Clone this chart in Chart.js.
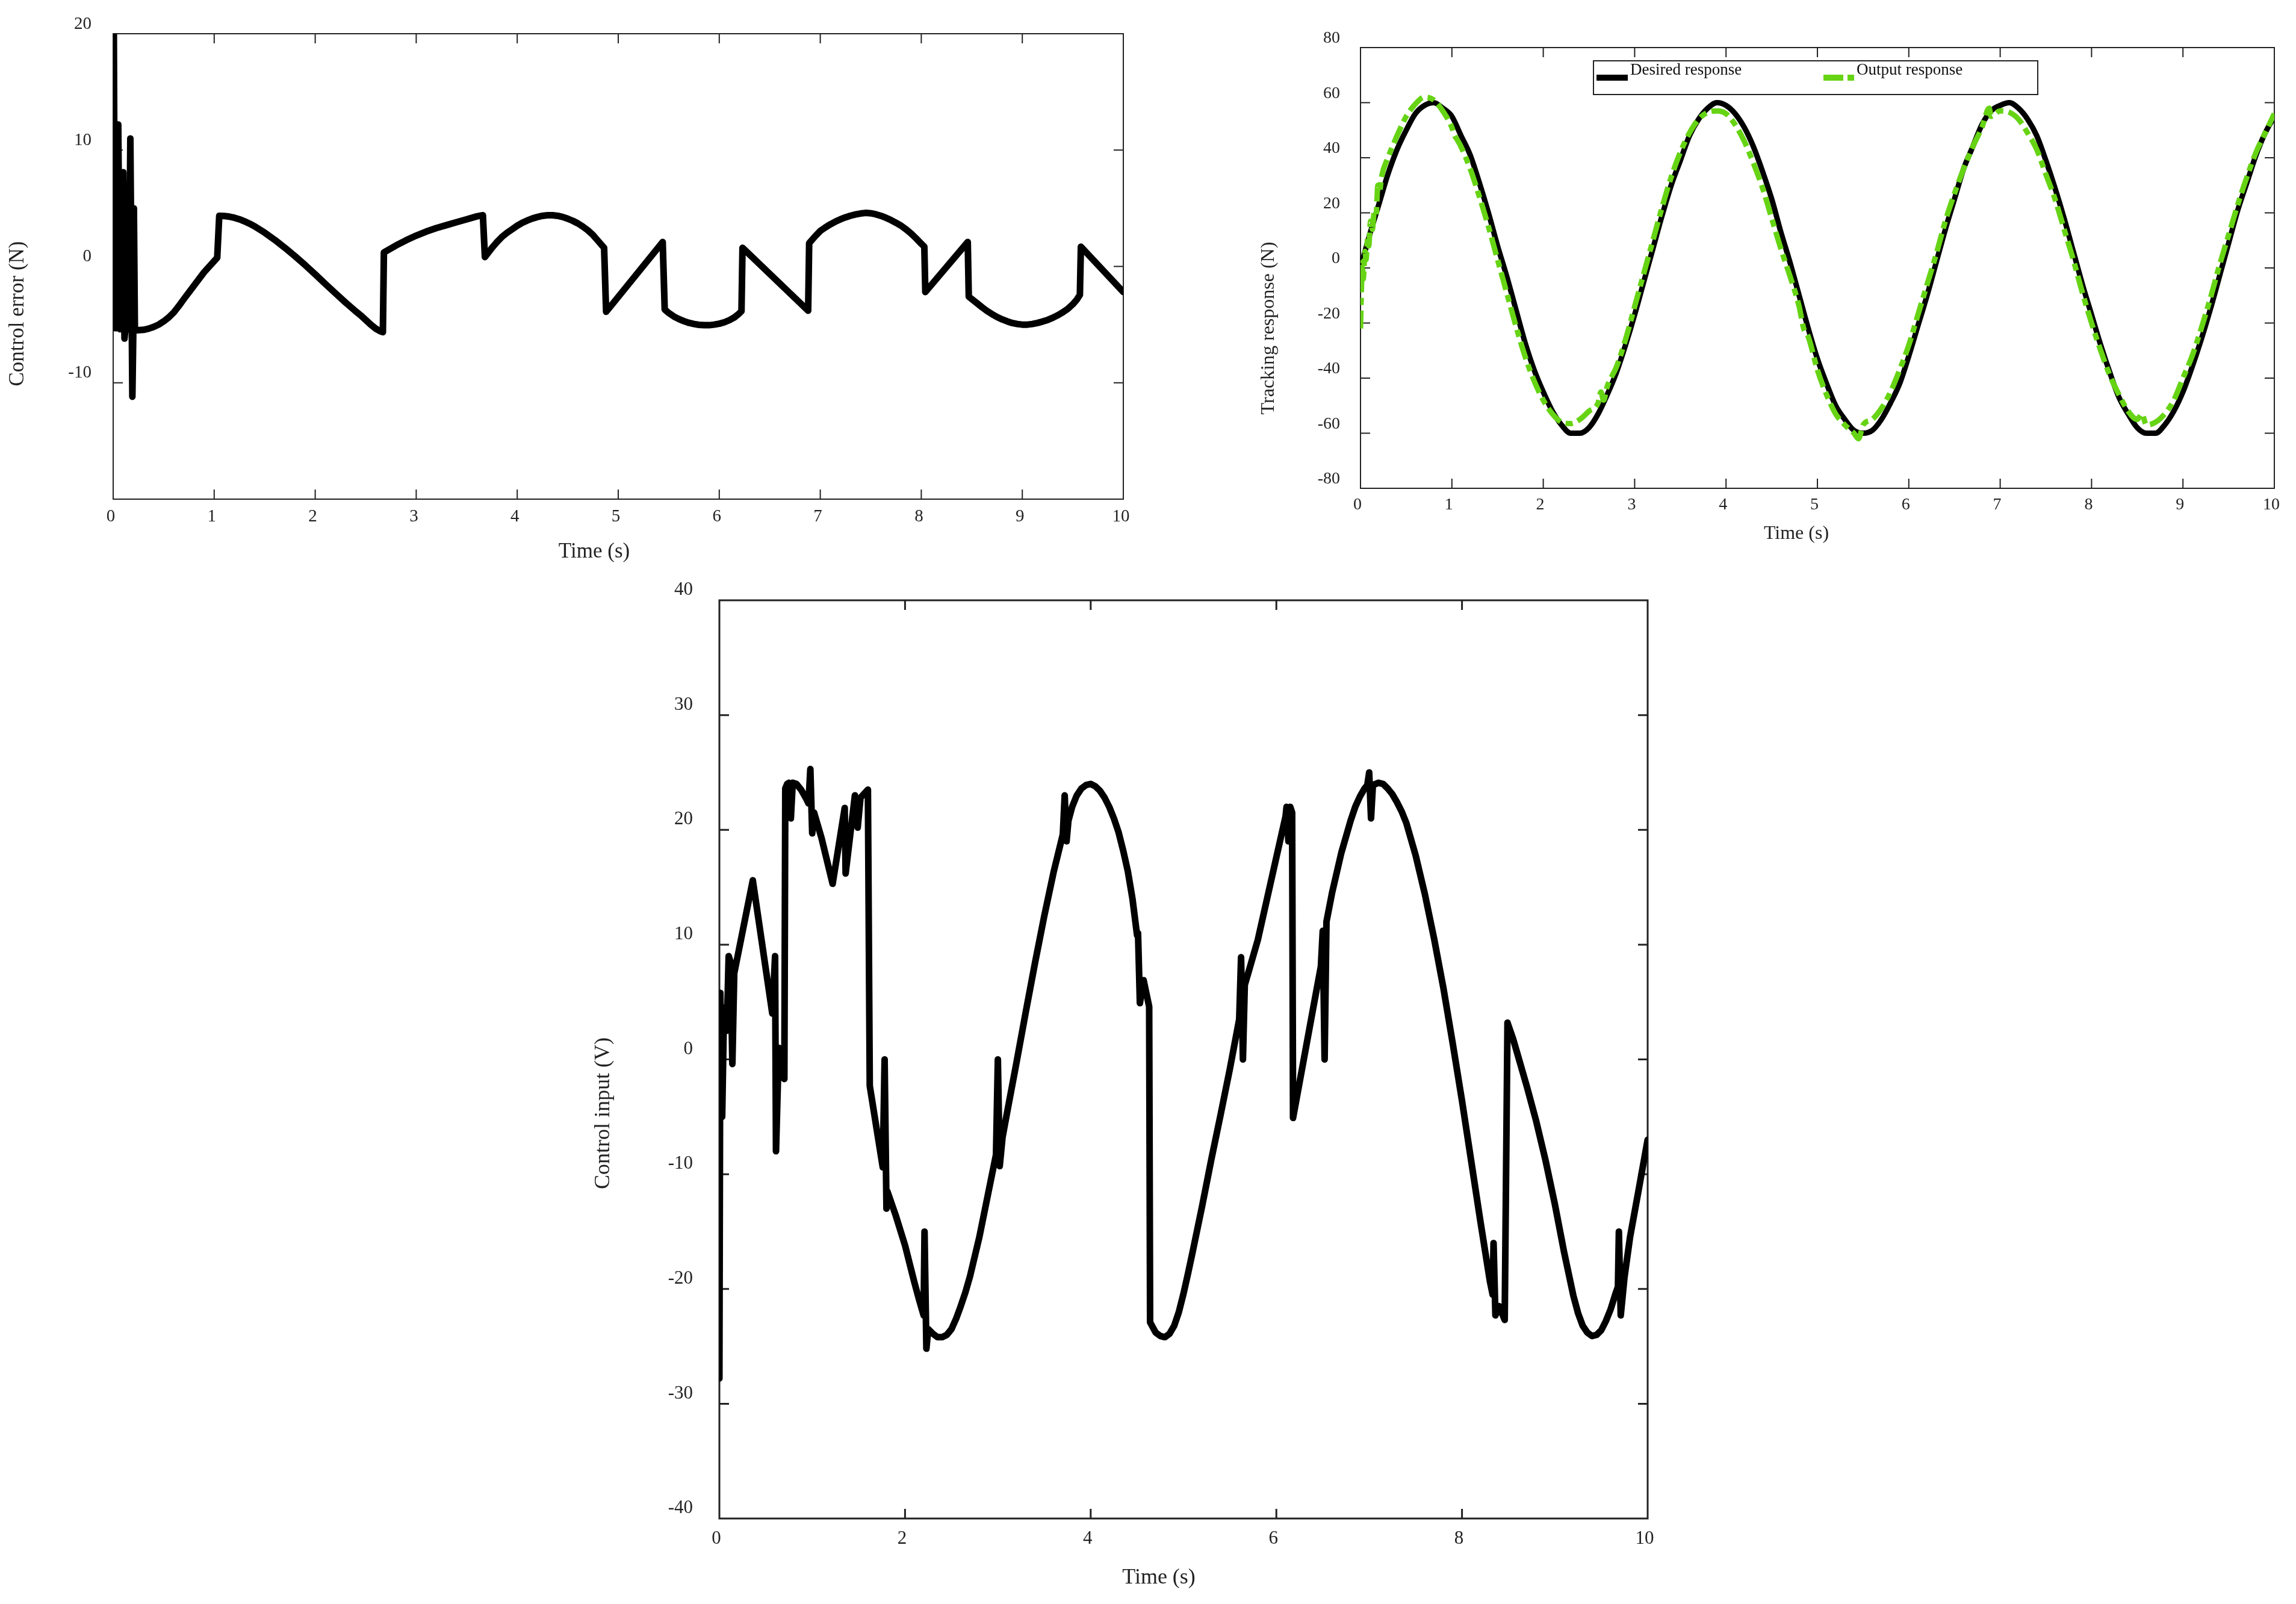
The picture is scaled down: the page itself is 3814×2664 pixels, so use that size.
<!DOCTYPE html>
<html>
<head>
<meta charset="utf-8">
<script src="https://cdn.jsdelivr.net/npm/chart.js@4.4.1/dist/chart.umd.min.js"></script>
<style>
html,body{margin:0;padding:0;background:#fff;width:3814px;height:2664px;overflow:hidden;}
canvas{position:absolute;display:block;}
</style>
</head>
<body>
<canvas id="c1" width="1900" height="960" style="left:0px;top:0px;width:1900px;height:960px"></canvas>
<canvas id="c2" width="1774" height="960" style="left:2040px;top:0px;width:1774px;height:960px"></canvas>
<canvas id="c3" width="1914" height="1734" style="left:900px;top:930px;width:1914px;height:1734px"></canvas>
<script>
// ---------------- DATA ----------------
// Chart 1: Control error (N) vs Time (s)
const errorTime = [0,0.006,0.018,0.035,0.05,0.068,0.085,0.1,0.112,0.125,0.14,0.155,0.17,0.19,0.2,0.205,0.215,
  0.3,0.35,0.4,0.45,0.5,0.55,0.6,0.65,0.7,0.8,0.9,1.03,
  1.05,1.1,1.15,1.2,1.25,1.3,1.35,1.4,1.5,1.6,1.7,1.8,1.9,2.0,2.1,2.2,2.3,2.4,2.45,2.5,2.55,2.6,2.64,2.67,
  2.68,2.8,2.9,3.0,3.1,3.2,3.3,3.4,3.5,3.6,3.66,
  3.68,3.75,3.8,3.85,3.9,3.95,4.0,4.05,4.1,4.15,4.2,4.25,4.3,4.35,4.4,4.45,4.5,4.55,4.6,4.65,4.7,4.75,4.8,4.86,
  4.88,5.44,
  5.46,5.5,5.55,5.6,5.65,5.7,5.75,5.8,5.85,5.9,5.95,6.0,6.05,6.1,6.15,6.19,6.22,
  6.23,6.88,
  6.89,6.95,7.0,7.05,7.1,7.15,7.2,7.25,7.3,7.35,7.4,7.45,7.5,7.55,7.6,7.65,7.7,7.75,7.8,7.85,7.9,7.95,8.0,8.03,
  8.04,8.46,
  8.47,8.55,8.6,8.65,8.7,8.75,8.8,8.85,8.9,8.95,9.0,9.05,9.1,9.15,9.2,9.25,9.3,9.35,9.4,9.45,9.5,9.54,9.57,
  9.58,10];
const errorValue = [0,21,-5.3,-5.3,12.2,-5.4,-5.2,8.1,-6.2,-5.0,5.5,-5.4,11.0,-11.2,-5.0,5.0,-5.5,
  -5.45,-5.35,-5.2,-5.0,-4.72,-4.38,-3.95,-3.4,-2.8,-1.65,-0.5,0.75,
  4.35,4.33,4.28,4.18,4.05,3.88,3.68,3.45,2.9,2.28,1.6,0.88,0.12,-0.68,-1.5,-2.3,-3.1,-3.85,-4.2,-4.6,-5.0,-5.35,-5.55,-5.65,
  1.2,1.8,2.25,2.65,3.0,3.3,3.55,3.8,4.05,4.3,4.4,
  0.8,1.6,2.1,2.55,2.9,3.2,3.5,3.75,3.95,4.12,4.25,4.35,4.4,4.4,4.35,4.25,4.1,3.92,3.7,3.42,3.1,2.7,2.2,1.6,
  -3.9,2.1,
  -3.7,-4.0,-4.3,-4.52,-4.7,-4.85,-4.95,-5.02,-5.05,-5.05,-5.0,-4.92,-4.8,-4.62,-4.38,-4.1,-3.85,
  1.6,-3.8,
  2.0,2.6,3.05,3.35,3.62,3.85,4.05,4.22,4.36,4.47,4.55,4.6,4.57,4.48,4.35,4.18,3.98,3.75,3.5,3.18,2.82,2.4,1.95,1.7,
  -2.2,2.1,
  -2.6,-3.15,-3.5,-3.82,-4.1,-4.35,-4.55,-4.72,-4.86,-4.95,-5.0,-5.0,-4.95,-4.86,-4.74,-4.6,-4.42,-4.2,-3.95,-3.65,-3.25,-2.85,-2.45,
  1.7,-2.2];
const errorTicksX = [0,10,1];
const errorTicksY = [-20,20,10];

// Chart 2: Tracking response (N)
const desiredTime = [0,0.1,0.2,0.3,0.4,0.5,0.6,0.7,0.8,0.9,1.0,1.1,1.2,1.3,1.4,1.5,1.6,1.7,1.8,1.9,2.0,
  2.1,2.2,2.3,2.4,2.5,2.6,2.7,2.8,2.9,3.0,3.1,3.2,3.3,3.4,3.5,3.6,3.7,3.8,3.9,4.0,4.1,4.2,4.3,4.4,4.5,4.6,
  4.7,4.8,4.9,5.0,5.1,5.2,5.3,5.4,5.5,5.6,5.7,5.8,5.9,6.0,6.1,6.2,6.3,6.4,6.5,6.6,6.7,6.8,6.9,7.0,7.1,7.2,
  7.3,7.4,7.5,7.6,7.7,7.8,7.9,8.0,8.1,8.2,8.3,8.4,8.5,8.6,8.7,8.8,8.9,9.0,9.1,9.2,9.3,9.4,9.5,9.6,9.7,9.8,9.9,10.0];
const desiredValue = [0,12,23,34,43,50,56,59,60,58,55,48,41,31,20,8,-3,-15,-27,-37,-45,
  -52,-57,-60,-60,-58,-53,-46,-38,-28,-17,-5,7,19,30,39,48,54,58,60,59,56,51,44,35,25,13,
  2,-10,-22,-33,-42,-50,-55,-59,-60,-59,-55,-49,-42,-32,-21,-10,2,14,25,36,44,52,57,59,60,58,
  54,48,39,29,18,6,-6,-17,-28,-38,-47,-53,-58,-60,-60,-57,-52,-45,-36,-26,-15,-3,9,21,31,41,49,55];
const outputTime = [0,0.01,0.02,0.03,0.05,0.06,0.08,0.09,0.11,0.13,0.15,0.17,0.19,0.21,0.23,0.3,0.4,0.5,0.6,0.7,
  0.8,0.9,1.0,1.03,1.05,1.1,1.2,1.3,1.4,1.5,1.6,1.7,1.8,1.9,2.0,2.1,2.2,2.3,2.4,2.5,2.6,2.63,2.66,2.7,2.8,2.9,
  3.0,3.1,3.2,3.3,3.4,3.5,3.6,3.7,3.8,3.9,4.0,4.1,4.2,4.3,4.4,4.5,4.6,4.7,4.8,4.85,4.9,5.0,5.1,5.2,5.3,5.4,
  5.45,5.5,5.6,5.7,5.8,5.9,6.0,6.1,6.2,6.3,6.4,6.5,6.6,6.7,6.8,6.88,6.9,7.0,7.1,7.2,7.3,7.4,7.5,7.6,7.7,7.8,
  7.9,8.0,8.1,8.2,8.3,8.4,8.5,8.55,8.6,8.7,8.8,8.9,9.0,9.1,9.2,9.3,9.4,9.5,9.6,9.7,9.8,9.9,10.0];
const outputValue = [-22,-8,2,-4,6,3,11,8,17,14,20,19,30,28,33,40,48,55,59.5,62,
  61,57,51,48,47,44,36,26,15,3,-9,-21,-32,-41,-48,-53,-56,-56.5,-55,-52,-49,-45,-48,-43,-36,-26,
  -14,-2,10,22,33,42,49,54,56.5,57,56,52,46,38,29,18,7,-3,-14,-22,-25,-37,-46,-53,-57,-60,
  -62,-57,-55,-51,-45,-37,-28,-17,-6,5,17,27,36,44,51,58,55,57,56.5,54,49,43,34,25,14,3,
  -9,-20,-30,-39,-46,-52,-55,-53,-57,-56,-53,-48,-40,-32,-22,-11,1,12,23,33,42,49,56];
const trackTicksX = [0,10,1];
const trackTicksY = [-80,80,20];

// Chart 3: Control input (V)
const inputTime = [0,0.01,0.03,0.05,0.08,0.1,0.12,0.14,0.16,0.36,0.57,0.6,0.61,0.64,0.67,0.7,
  0.71,0.73,0.75,0.77,0.79,0.83,0.88,0.93,0.96,0.98,1.0,1.02,1.1,1.22,1.35,1.36,1.46,1.49,1.52,1.6,
  1.62,1.76,1.78,1.8,1.81,1.9,2.0,2.1,2.15,2.2,2.21,2.23,2.25,2.3,2.35,2.4,2.45,2.5,2.55,2.6,2.65,2.7,
  2.8,2.9,2.98,3.0,3.02,3.05,3.1,3.2,3.3,3.4,3.5,3.6,3.7,3.72,3.74,3.76,3.8,3.85,3.9,3.95,4.0,4.05,4.1,
  4.15,4.2,4.25,4.3,4.35,4.4,4.45,4.5,4.51,4.53,4.57,4.63,
  4.64,4.7,4.75,4.8,4.85,4.9,4.95,5.0,5.05,5.1,5.2,5.3,5.4,5.5,5.6,5.62,5.64,5.66,5.7,5.8,5.9,6.0,6.1,
  6.11,6.13,6.15,6.17,6.18,6.3,6.4,6.48,6.5,6.52,6.54,6.6,6.7,6.8,6.85,6.9,6.95,6.98,7.0,7.02,7.04,7.1,
  7.15,7.2,7.25,7.3,7.35,7.4,7.5,7.6,7.7,7.8,7.9,8.0,8.1,8.2,8.3,8.33,8.34,8.36,8.4,8.46,
  8.49,8.55,8.6,8.7,8.8,8.9,9.0,9.1,9.2,9.25,9.3,9.35,9.4,9.45,9.5,9.55,9.6,9.65,9.68,9.69,9.71,9.75,
  9.81,9.9,10];
const inputValue = [-27.8,5.8,-5,4.5,2.5,9,8.5,-0.4,7.5,15.6,4,9,-8,1,-1.5,-1.7,
  23.6,24.0,24.1,21,24.1,24,23.5,22.8,22.3,25.3,19.7,21.5,19.3,15.3,21.9,16.2,23,20.2,22.8,23.5,
  -2.3,-9.4,0,-13,-11.5,-13.6,-16.2,-19.4,-20.9,-22.3,-15,-25.2,-23.5,-23.9,-24.2,-24.2,-24.0,-23.5,-22.6,-21.5,-20.3,-18.9,
  -15.5,-11.5,-8.3,0,-9.3,-6.8,-4.6,-0.3,4.1,8.4,12.5,16.3,19.6,23,19,20.8,22.0,23.0,23.6,23.9,24.0,23.8,23.4,
  22.8,22.0,21.0,19.8,18.2,16.4,14,10.8,11,4.9,6.9,4.6,
  -22.9,-23.8,-24.1,-24.2,-23.9,-23.2,-22,-20.4,-18.6,-16.7,-12.8,-8.7,-4.8,-0.8,3.5,8.9,0,6.5,7.6,10.4,14,17.6,21.2,
  22,19,22,21.5,-5.1,0.2,4.6,8.1,11.2,0,12,14.5,18,20.8,22,22.9,23.6,23.9,25,21,23.9,24.1,
  24,23.6,23.1,22.4,21.6,20.6,17.8,14.4,10.5,6.2,1.4,-3.6,-8.9,-14.2,-19.3,-20.5,-16,-22.3,-21.5,-22.7,
  3.2,1.8,0.4,-2.4,-5.4,-8.8,-12.6,-16.8,-20.6,-22.1,-23.2,-23.8,-24.1,-24.0,-23.6,-22.8,-21.8,-20.5,-19.8,-15,-22.3,-19,
  -15.5,-11.5,-7];
const inputTicksX = [0,10,2];
const inputTicksY = [-40,40,10];

// ---------------- HELPERS ----------------
const FONT = "'Liberation Serif', 'Times New Roman', Times, serif";
const INK = '#222';
function pts(xs, ys) { return xs.map((x, i) => ({ x: x, y: ys[i] })); }

function framePlugin(len, width) {
  return {
    id: 'frameTicks',
    beforeDatasetsDraw(chart) {
      const { ctx, chartArea: a } = chart;
      const sx = chart.scales.x, sy = chart.scales.y;
      ctx.save();
      ctx.strokeStyle = INK;
      ctx.lineWidth = width;
      ctx.strokeRect(a.left, a.top, a.right - a.left, a.bottom - a.top);
      ctx.beginPath();
      sx.ticks.forEach(t => {
        const p = sx.getPixelForValue(t.value);
        if (p <= a.left + 2 || p >= a.right - 2) return;
        ctx.moveTo(p, a.bottom); ctx.lineTo(p, a.bottom - len);
        ctx.moveTo(p, a.top); ctx.lineTo(p, a.top + len);
      });
      sy.ticks.forEach(t => {
        const p = sy.getPixelForValue(t.value);
        if (p <= a.top + 2 || p >= a.bottom - 2) return;
        ctx.moveTo(a.left, p); ctx.lineTo(a.left + len, p);
        ctx.moveTo(a.right, p); ctx.lineTo(a.right - len, p);
      });
      ctx.stroke();
      ctx.restore();
    }
  };
}

function titlesPlugin(items) {
  return {
    id: 'axisTitles',
    afterDraw(chart) {
      const ctx = chart.ctx;
      items.forEach(it => {
        ctx.save();
        ctx.font = it.size + 'px ' + FONT;
        ctx.fillStyle = INK;
        ctx.textAlign = 'center';
        ctx.textBaseline = 'middle';
        ctx.translate(it.x, it.y);
        if (it.rotate) ctx.rotate(-Math.PI / 2);
        ctx.fillText(it.text, 0, 0);
        ctx.restore();
      });
    }
  };
}

function makeOptions(o) {
  return {
    responsive: false,
    maintainAspectRatio: false,
    animation: false,
    devicePixelRatio: 1,
    layout: { padding: { top: o.padTop, right: o.padRight, left: 0, bottom: 0 } },
    plugins: { legend: { display: false }, tooltip: { enabled: false }, title: { display: false } },
    elements: { point: { radius: 0 } },
    scales: {
      x: {
        type: 'linear', min: o.xt[0], max: o.xt[1],
        afterFit: s => { s.height = o.xH; },
        grid: { display: false, drawTicks: false },
        border: { display: false },
        ticks: {
          stepSize: o.xt[2], autoSkip: false, maxRotation: 0, padding: o.xPad, labelOffset: o.xOff,
          color: INK, font: { family: FONT, size: o.fs }, callback: v => String(v)
        }
      },
      y: {
        type: 'linear', min: o.yt[0], max: o.yt[1],
        afterFit: s => { s.width = o.yW; },
        grid: { display: false, drawTicks: false },
        border: { display: false },
        ticks: {
          stepSize: o.yt[2], autoSkip: false, padding: o.yPad, labelOffset: o.yOff,
          color: INK, font: { family: FONT, size: o.fs },
          callback: o.yLabel || (v => String(v))
        }
      }
    }
  };
}

// ---------------- CHART 1 ----------------
new Chart(document.getElementById('c1'), {
  type: 'line',
  data: {
    datasets: [{
      label: 'Control error (N)',
      data: pts(errorTime, errorValue),
      borderColor: '#000', borderWidth: 11, tension: 0,
      borderJoinStyle: 'round', borderCapStyle: 'round', fill: false, pointRadius: 0
    }]
  },
  options: makeOptions({
    padTop: 56, padRight: 34, xH: 131, yW: 188,
    xt: errorTicksX, yt: errorTicksY, fs: 29,
    xPad: 12, xOff: -4, yPad: 36, yOff: -16,
    yLabel: v => (v === -20 ? '' : String(v))
  }),
  plugins: [framePlugin(16, 2), titlesPlugin([
    { text: 'Time (s)', x: 987, y: 917, size: 35 },
    { text: 'Control error (N)', x: 30, y: 521, size: 35, rotate: true }
  ])]
});

// ---------------- CHART 2 ----------------
const legendPlugin = {
  id: 'boxLegend',
  afterDatasetsDraw(chart) {
    const ctx = chart.ctx;
    const ds = chart.data.datasets;
    ctx.save();
    ctx.fillStyle = '#fff';
    ctx.fillRect(607, 101, 738, 56);
    ctx.strokeStyle = INK;
    ctx.lineWidth = 2;
    ctx.strokeRect(607, 101, 738, 56);
    ctx.fillStyle = ds[0].borderColor;
    ctx.fillRect(612, 124, 52, 10);
    ctx.fillStyle = ds[1].borderColor;
    ctx.fillRect(989, 124, 33, 10);
    ctx.fillRect(1029, 124, 11, 10);
    ctx.fillStyle = '#111';
    ctx.font = '27px ' + FONT;
    ctx.textAlign = 'left';
    ctx.textBaseline = 'alphabetic';
    ctx.fillText(ds[0].label, 668, 124);
    ctx.fillText(ds[1].label, 1044, 124);
    ctx.restore();
  }
};

new Chart(document.getElementById('c2'), {
  type: 'line',
  data: {
    datasets: [{
      label: 'Desired response',
      data: pts(desiredTime, desiredValue),
      borderColor: '#000', borderWidth: 9, cubicInterpolationMode: 'monotone',
      fill: false, pointRadius: 0, order: 1
    }, {
      label: 'Output response',
      data: pts(outputTime, outputValue),
      borderColor: '#66D414', borderWidth: 9, borderDash: [30, 9, 12, 9],
      cubicInterpolationMode: 'monotone', fill: false, pointRadius: 0, order: 0
    }]
  },
  options: makeOptions({
    padTop: 79, padRight: 36, xH: 149, yW: 220,
    xt: trackTicksX, yt: trackTicksY, fs: 28,
    xPad: 11, xOff: -5, yPad: 34, yOff: -15
  }),
  plugins: [framePlugin(16, 2), legendPlugin, titlesPlugin([
    { text: 'Time (s)', x: 944, y: 887, size: 32 },
    { text: 'Tracking response (N)', x: 68, y: 545, size: 32, rotate: true }
  ])]
});

// ---------------- CHART 3 ----------------
new Chart(document.getElementById('c3'), {
  type: 'line',
  data: {
    datasets: [{
      label: 'Control input (V)',
      data: pts(inputTime, inputValue),
      borderColor: '#000', borderWidth: 11, tension: 0,
      borderJoinStyle: 'round', borderCapStyle: 'round', fill: false, pointRadius: 0
    }]
  },
  options: makeOptions({
    padTop: 67, padRight: 77, xH: 142, yW: 295,
    xt: inputTicksX, yt: inputTicksY, fs: 31,
    xPad: 15, xOff: -5, yPad: 44, yOff: -17
  }),
  plugins: [framePlugin(16, 3), titlesPlugin([
    { text: 'Time (s)', x: 1025, y: 1691, size: 36 },
    { text: 'Control input (V)', x: 103, y: 919, size: 36, rotate: true }
  ])]
});
</script>
</body>
</html>
